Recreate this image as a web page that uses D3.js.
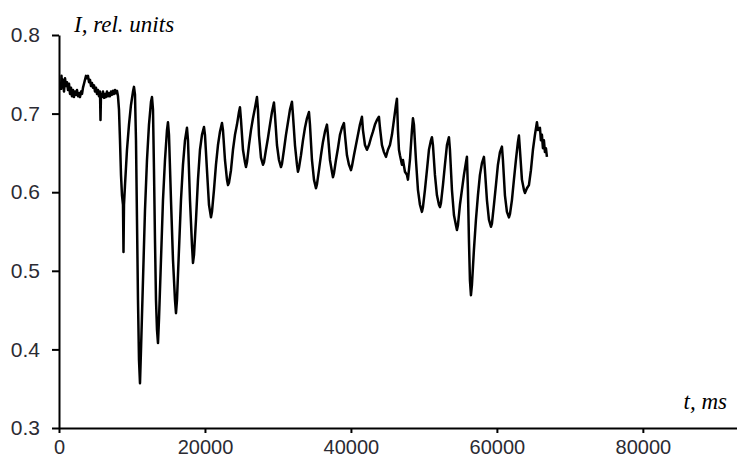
<!DOCTYPE html>
<html>
<head>
<meta charset="utf-8">
<script src="https://cdn.jsdelivr.net/npm/d3@7/dist/d3.min.js"></script>
<style>
html,body{margin:0;padding:0;background:#fff;}
svg{display:block;}
</style>
</head>
<body>
<svg id="chart" width="737" height="461"></svg>
<script>
// time, ms
const timeMs = [
274,343,411,548,685,822,959,1096,1233,1370,1507,1644,1781,1918,2055,2192,2329,2466,2603,2740,
2877,3014,3151,3288,3425,3562,3699,3836,3973,4110,4247,4384,4521,4658,4795,4932,5069,5206,5343,5480,
5617,5686,5754,5891,6028,6165,6302,6439,6576,6713,6850,6987,7124,7261,7398,7535,7672,7809,7946,8083,
8220,8357,8494,8631,8768,8837,8905,9042,9316,9590,9864,10138,10275,10412,10549,10686,10823,10960,11097,11234,
11508,11782,12056,12330,12604,12741,12878,13015,13152,13289,13426,13563,13700,13974,14248,14522,14796,14933,15070,15344,
15618,15892,16029,16166,16440,16714,16988,17262,17536,17673,17947,18221,18358,18495,18769,19043,19317,19591,19865,20002,
20276,20550,20824,20961,21235,21509,21783,22057,22331,22468,22742,23016,23153,23290,23564,23838,24112,24386,24660,24797,
24934,25208,25482,25619,25756,26030,26304,26578,26852,27126,27263,27400,27674,27948,28085,28359,28633,28907,29181,29455,
29592,29866,30140,30414,30551,30825,31099,31373,31647,31921,32058,32332,32606,32743,32880,33154,33428,33702,33976,34250,
34387,34661,34935,35209,35346,35620,35894,36168,36442,36716,36853,37127,37401,37538,37675,37949,38223,38497,38771,39045,
39182,39456,39730,40004,40141,40415,40689,40963,41237,41511,41648,41922,42196,42470,42744,43018,43292,43566,43840,43977,
44251,44525,44799,45073,45347,45621,45895,46169,46306,46443,46580,46717,46991,47128,47402,47676,47813,48087,48361,48498,
48635,48909,49183,49457,49731,49868,50142,50416,50690,50964,51101,51238,51512,51786,52060,52197,52334,52608,52882,53156,
53430,53567,53841,54115,54389,54526,54663,54937,55211,55485,55759,55896,56033,56170,56307,56444,56581,56855,57129,57403,
57677,57951,58225,58362,58636,58910,59184,59321,59595,59869,60143,60417,60691,60828,61102,61376,61650,61787,62061,62335,
62609,62883,63020,63157,63431,63705,63842,64116,64390,64664,64938,65212,65486,65623,65897,66034,66171,66308,66445,66582,
66719,66856
];
// intensity, rel. units
const intensity = [
0.730,0.748,0.733,0.743,0.728,0.745,0.735,0.740,0.730,0.738,0.725,0.733,0.722,0.730,0.721,0.728,0.724,0.730,0.722,0.726,
0.721,0.728,0.725,0.733,0.738,0.743,0.748,0.745,0.748,0.740,0.743,0.735,0.739,0.733,0.736,0.728,0.733,0.725,0.730,0.722,
0.728,0.692,0.725,0.721,0.728,0.720,0.725,0.721,0.728,0.722,0.726,0.722,0.728,0.724,0.729,0.725,0.730,0.726,0.729,0.722,
0.705,0.666,0.622,0.596,0.584,0.524,0.584,0.609,0.654,0.686,0.711,0.728,0.734,0.724,0.666,0.565,0.463,0.387,0.357,0.399,
0.488,0.577,0.641,0.686,0.715,0.721,0.705,0.628,0.539,0.463,0.425,0.408,0.438,0.514,0.590,0.641,0.679,0.689,0.673,0.590,
0.514,0.463,0.446,0.463,0.527,0.590,0.635,0.666,0.682,0.666,0.590,0.533,0.510,0.520,0.565,0.616,0.654,0.673,0.683,0.673,
0.628,0.584,0.568,0.575,0.603,0.635,0.660,0.677,0.688,0.679,0.641,0.616,0.609,0.612,0.628,0.654,0.673,0.686,0.702,0.708,
0.692,0.654,0.638,0.632,0.638,0.660,0.679,0.694,0.707,0.721,0.705,0.673,0.644,0.635,0.638,0.654,0.669,0.686,0.702,0.714,
0.698,0.660,0.641,0.632,0.636,0.654,0.673,0.689,0.705,0.715,0.698,0.660,0.635,0.626,0.631,0.647,0.666,0.682,0.694,0.702,
0.686,0.641,0.616,0.605,0.610,0.628,0.647,0.664,0.677,0.686,0.673,0.641,0.626,0.619,0.624,0.641,0.656,0.673,0.682,0.688,
0.673,0.647,0.635,0.628,0.633,0.647,0.660,0.673,0.686,0.696,0.679,0.660,0.654,0.660,0.669,0.677,0.686,0.692,0.696,0.682,
0.660,0.651,0.645,0.654,0.660,0.673,0.692,0.711,0.719,0.679,0.654,0.647,0.635,0.641,0.626,0.622,0.616,0.641,0.679,0.694,
0.686,0.641,0.603,0.584,0.575,0.581,0.603,0.628,0.654,0.666,0.670,0.660,0.622,0.596,0.584,0.581,0.586,0.609,0.635,0.660,
0.670,0.654,0.603,0.571,0.558,0.552,0.558,0.584,0.603,0.622,0.638,0.645,0.603,0.539,0.488,0.469,0.482,0.527,0.565,0.596,
0.622,0.637,0.645,0.628,0.590,0.565,0.556,0.560,0.584,0.609,0.635,0.651,0.658,0.641,0.596,0.575,0.568,0.572,0.590,0.616,
0.641,0.664,0.672,0.654,0.616,0.603,0.599,0.605,0.609,0.628,0.654,0.673,0.689,0.679,0.682,0.666,0.673,0.656,0.666,0.651,
0.656,0.645
];
const xTicks = [0, 20000, 40000, 60000, 80000];
const yTicks = [0.3, 0.4, 0.5, 0.6, 0.7, 0.8];
const xMax = 92900;

const svg = d3.select("#chart");
const x = d3.scaleLinear().domain([0, xMax]).range([59, 737]);
const y = d3.scaleLinear().domain([0.3, 0.8]).range([428, 35]);

const tickFont = "'Liberation Sans', Arial, sans-serif";

// axes
const xAxis = d3.axisBottom(x).tickValues(xTicks).tickSize(5).tickSizeOuter(0).tickPadding(7).tickFormat(d3.format("d"));
const gx = svg.append("g").attr("transform", "translate(0,428)").call(xAxis);
gx.select(".domain").attr("stroke", "#000").attr("stroke-width", 2);
gx.selectAll(".tick line").attr("stroke", "#000").attr("stroke-width", 2);
gx.selectAll(".tick text").attr("fill", "#2b2b33").style("font-family", tickFont).style("font-size", "20px");

const yAxis = d3.axisLeft(y).tickValues(yTicks).tickSize(7).tickSizeOuter(0).tickPadding(12).tickFormat(d3.format(".1f"));
const gy = svg.append("g").attr("transform", "translate(59,0)").call(yAxis);
gy.select(".domain").attr("stroke", "#000").attr("stroke-width", 2);
gy.selectAll(".tick line").attr("stroke", "#000").attr("stroke-width", 2);
gy.selectAll(".tick text").attr("fill", "#2b2b33").style("font-family", tickFont).style("font-size", "21px");

// data line
const pts = timeMs.map((t, i) => [t, intensity[i]]);
svg.append("path")
  .datum(pts)
  .attr("fill", "none")
  .attr("stroke", "#000")
  .attr("stroke-width", 2.5)
  .attr("stroke-linejoin", "round")
  .attr("d", d3.line().x(d => x(d[0])).y(d => y(d[1])));

// axis titles
const titleFont = "'Liberation Serif', 'Times New Roman', serif";
svg.append("text")
  .attr("x", 74).attr("y", 32)
  .style("font-family", titleFont)
  .style("font-style", "italic").style("font-size", "23px").attr("fill", "#000")
  .text("I, rel. units");
svg.append("text")
  .attr("x", 727).attr("y", 409).attr("text-anchor", "end")
  .style("font-family", titleFont)
  .style("font-style", "italic").style("font-size", "23px").attr("fill", "#000")
  .text("t, ms");
</script>
</body>
</html>
